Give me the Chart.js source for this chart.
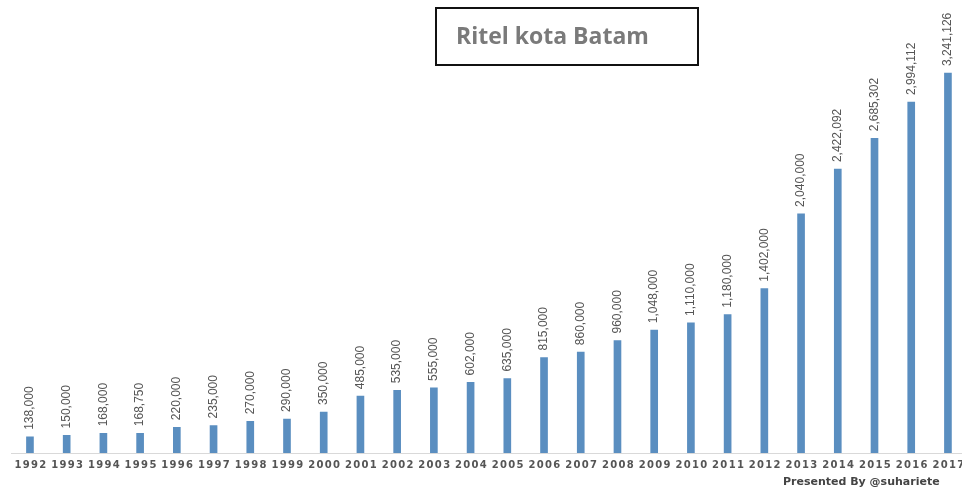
<!DOCTYPE html>
<html lang="en">
  <head>
    <meta charset="UTF-8" />
    <title>Ritel kota Batam</title>
    <style>
      body {
        margin: 0;
        width: 962px;
        height: 491px;
        overflow: hidden;
        background: #fff;
        position: relative;
        font-family: "Open Sans", Arial, sans-serif;
      }
      .chart-wrap {
        position: absolute;
        left: 0;
        top: 0;
        width: 975px;
        height: 491px;
      }
      .title-box {
        position: absolute;
        left: 435px;
        top: 7px;
        width: 260px;
        height: 55px;
        border: 2px solid #111;
        box-sizing: content-box;
      }
      .title-box span {
        position: absolute;
        left: 19px;
        top: 10px;
        font-family: "Open Sans", sans-serif;
        font-weight: bold;
        font-size: 23px;
        color: #7a7a7a;
      }
      .credit {
        position: absolute;
        left: 783px;
        top: 475px;
        font-family: "DejaVu Sans", sans-serif;
        font-weight: bold;
        font-size: 11px;
        color: #444;
      }
    </style>
  </head>
  <body>
    <div class="chart-wrap"><canvas id="ritelChart"></canvas></div>
    <div class="title-box"><span>Ritel kota Batam</span></div>
    <div class="credit">Presented By @suhariete</div>

    <script src="https://cdn.jsdelivr.net/npm/chart.js"></script>
    <script>
      // data
      const years = [
        "1992", "1993", "1994", "1995", "1996", "1997", "1998", "1999", "2000",
        "2001", "2002", "2003", "2004", "2005", "2006", "2007", "2008", "2009",
        "2010", "2011", "2012", "2013", "2014", "2015", "2016", "2017",
      ];
      const ritel = [
        138000, 150000, 168000, 168750, 220000, 235000, 270000, 290000, 350000,
        485000, 535000, 555000, 602000, 635000, 815000, 860000, 960000, 1048000,
        1110000, 1180000, 1402000, 2040000, 2422092, 2685302, 2994112, 3241126,
      ];

      // value labels (rotated) and year labels under the axis
      const labelPlugin = {
        id: "labels",
        afterDatasetsDraw(chart) {
          const ctx = chart.ctx;
          const meta = chart.getDatasetMeta(0);
          const xScale = chart.scales.x;
          ctx.save();
          ctx.fillStyle = "#555";
          ctx.font = "12px 'Liberation Sans Narrow', 'Liberation Sans', sans-serif";
          ctx.textAlign = "left";
          ctx.textBaseline = "middle";
          meta.data.forEach((bar, i) => {
            ctx.save();
            ctx.translate(bar.x, bar.y - 7);
            ctx.rotate(-Math.PI / 2);
            ctx.fillText(ritel[i].toLocaleString("en-US"), 0, 0);
            ctx.restore();
          });
          ctx.fillStyle = "#555";
          ctx.font = "bold 10px 'DejaVu Sans', sans-serif";
          ctx.textAlign = "center";
          ctx.letterSpacing = "1.3px";
          years.forEach((y, i) => {
            ctx.fillText(y, xScale.getPixelForValue(i) + 1, 465);
          });
          ctx.restore();
        },
      };

      const ctx = document.getElementById("ritelChart").getContext("2d");
      new Chart(ctx, {
        type: "bar",
        data: {
          labels: years,
          datasets: [
            {
              data: ritel,
              backgroundColor: "#5a8ec0",
              barThickness: 7,
            },
          ],
        },
        options: {
          responsive: true,
          maintainAspectRatio: false,
          animation: false,
          layout: {
            padding: { left: 11.6, right: 8.7, top: 0, bottom: 30 },
          },
          plugins: {
            legend: { display: false },
            tooltip: { enabled: false },
          },
          scales: {
            x: {
              grid: { display: false },
              border: { display: true, color: "#d9d9d9", width: 1 },
              ticks: { display: false },
            },
            y: {
              display: false,
              min: 0,
              max: 3865000,
            },
          },
        },
        plugins: [labelPlugin],
      });
    </script>
  </body>
</html>
